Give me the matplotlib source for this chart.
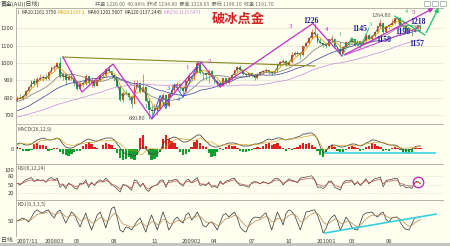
import matplotlib
matplotlib.use('Agg')
import matplotlib.pyplot as plt
from matplotlib.patches import Rectangle
import numpy as np
import pandas as pd

plt.rcParams['font.family'] = ['Noto Sans CJK SC', 'DejaVu Sans']

# 黄金 weekly bars 2007-12-07 .. 2010-08-20
closes = [800, 797, 812, 838, 862, 896, 882, 907, 912, 922,
          906, 946, 975, 975, 1000, 920, 935, 905, 925, 912,
          886, 852, 884, 878, 924, 886, 902, 871, 903, 929,
          934, 963, 955, 929, 912, 865, 788, 830, 829, 805,
          765, 865, 883, 837, 860, 785, 730, 725, 735, 740,
          795, 815, 755, 822, 845, 870, 878, 855, 840, 898,
          928, 913, 945, 1002, 942, 940, 930, 954, 920, 898,
          885, 868, 913, 884, 914, 929, 958, 979, 962, 936,
          934, 940, 928, 912, 937, 951, 953, 959, 947, 944,
          955, 995, 1006, 1010, 990, 1003, 1048, 1056, 1056, 1045,
          1095, 1117, 1145, 1176, 1168, 1122, 1112, 1105, 1096, 1138,
          1140, 1092, 1081, 1053, 1094, 1120, 1118, 1135, 1104, 1125,
          1106, 1126, 1162, 1136, 1154, 1180, 1210, 1231, 1177, 1213,
          1218, 1228, 1256, 1256, 1210, 1209, 1190, 1189, 1181, 1202,
          1214, 1196]
highs = [810, 823, 815, 845, 870, 900, 914, 920, 935, 930,
         935, 955, 978, 990, 1003, 1033, 950, 940, 935, 960,
         925, 895, 890, 890, 935, 925, 915, 900, 910, 935,
         945, 970, 988, 960, 930, 915, 868, 840, 845, 830,
         810, 905, 905, 890, 935, 870, 800, 760, 765, 760,
         800, 830, 820, 830, 880, 875, 890, 885, 865, 905,
         940, 925, 950, 1006, 1000, 950, 945, 965, 960, 930,
         900, 895, 915, 910, 920, 935, 962, 980, 990, 965,
         945, 945, 945, 935, 940, 955, 960, 970, 960, 950,
         960, 1000, 1010, 1025, 1015, 1010, 1062, 1070, 1068, 1060,
         1100, 1120, 1150, 1195, 1226, 1170, 1145, 1115, 1115, 1140,
         1160, 1145, 1100, 1120, 1095, 1125, 1125, 1145, 1135, 1130,
         1115, 1130, 1165, 1165, 1160, 1180, 1212, 1249, 1230, 1215,
         1225, 1250, 1260, 1265, 1262, 1215, 1215, 1200, 1190, 1212,
         1225, 1222]
lows = [780, 795, 790, 810, 835, 855, 870, 865, 900, 895,
        900, 905, 940, 955, 970, 915, 905, 875, 900, 905,
        870, 845, 850, 860, 875, 870, 865, 860, 870, 895,
        920, 920, 950, 915, 895, 860, 780, 776, 815, 790,
        740, 765, 860, 830, 835, 780, 681, 700, 712, 705,
        730, 790, 740, 750, 820, 840, 850, 840, 805, 835,
        890, 895, 905, 940, 935, 900, 900, 885, 915, 880,
        865, 865, 870, 880, 880, 905, 925, 945, 955, 930,
        920, 920, 920, 905, 910, 930, 935, 950, 935, 930,
        940, 950, 985, 1000, 985, 985, 1000, 1040, 1040, 1025,
        1040, 1090, 1110, 1140, 1160, 1115, 1110, 1090, 1085, 1095,
        1125, 1090, 1075, 1045, 1055, 1090, 1095, 1115, 1100, 1100,
        1085, 1105, 1120, 1135, 1130, 1150, 1170, 1200, 1165, 1175,
        1195, 1215, 1225, 1230, 1200, 1195, 1190, 1175, 1157, 1175,
        1190, 1188]
# 2007 weekly closes before the window, they only seed the long averages
warmup = [632, 608, 626, 630, 648, 650, 666, 666, 685, 645,
          654, 655, 664, 663, 677, 690, 689, 680, 683, 670,
          662, 656, 667, 656, 658, 656, 650, 657, 665, 682,
          670, 670, 676, 660, 669, 673, 703, 711, 735, 743,
          737, 754, 765, 786, 807, 834, 788, 825, 783]

macd_bar = [4, 3, -3, -4, -4, -2, 10, 12, 8, 9,
            6, -3, -2, 3, 2, -6, -10, -12, -13, -10,
            -6, -4, -3, 6, 11, 14, 10, 5, 2, 1,
            8, 12, 11, 9, 3, -8, -18, -22, -20, -16,
            -20, -22, -12, 22, 28, 6, -12, -22, -20, -16,
            -6, 20, 28, 20, 16, 12, 4, -6, -12, -10,
            -6, 4, 14, 18, 12, 6, 4, -8, -16, -14,
            -6, 2, -2, 4, 8, 6, 7, 3, -3, -6,
            -6, -4, -2, 3, 4, 2, 6, 10, 12, 8,
            10, 12, 6, 2, -3, 3, -2, 2, 4, 8,
            12, 10, 12, 8, 4, -4, -12, -16, -6, 6,
            8, 5, -4, -6, -5, -2, 4, 6, 5, 2,
            -3, -2, 4, 6, 12, 10, 6, 4, -3, -2,
            -3, 2, 4, 3, -2, -6, -8, -8, -6, 2,
            3, 3]
diff = [10, 12, 10, 8, 8, 10, 14, 18, 20, 22,
        20, 18, 18, 20, 22, 18, 10, 4, 2, 2,
        4, 8, 10, 14, 18, 20, 18, 16, 16, 18,
        20, 22, 22, 22, 18, 10, 2, -6, -10, -10,
        -12, -14, -10, 0, 4, 0, -6, -10, -10, -8,
        -4, 10, 18, 20, 22, 24, 22, 18, 14, 14,
        16, 20, 24, 28, 28, 22, 16, 10, 6, 4,
        4, 6, 8, 10, 12, 12, 12, 10, 8, 6,
        6, 6, 8, 10, 10, 12, 14, 18, 20, 18,
        20, 22, 22, 20, 18, 20, 20, 22, 24, 26,
        30, 30, 32, 32, 28, 20, 4, -8, -4, 4,
        8, 8, 6, 4, 4, 6, 8, 10, 10, 8,
        6, 8, 12, 14, 18, 18, 16, 14, 12, 10,
        8, 8, 8, 6, 2, -2, -2, -2, 0, 4,
        6, 6]
rsi1 = [55, 48, 58, 66, 70, 74, 60, 68, 64, 66,
        58, 70, 74, 66, 72, 40, 50, 36, 55, 48,
        38, 34, 55, 52, 66, 40, 58, 46, 60, 66,
        60, 72, 62, 48, 44, 34, 24, 50, 48, 40,
        30, 66, 62, 42, 55, 34, 26, 40, 46, 50,
        64, 66, 40, 64, 62, 68, 66, 52, 44, 64,
        68, 56, 66, 74, 46, 50, 46, 58, 40, 44,
        38, 62, 50, 62, 64, 70, 72, 56, 46, 48,
        44, 40, 56, 60, 58, 52, 60, 56, 52, 60,
        70, 72, 64, 48, 60, 70, 64, 62, 56, 72,
        74, 76, 78, 80, 68, 40, 42, 36, 44, 62,
        60, 40, 36, 30, 56, 64, 62, 66, 48, 60,
        46, 58, 70, 52, 62, 70, 72, 76, 42, 64,
        66, 68, 72, 70, 44, 48, 38, 42, 36, 58,
        62, 52]
rsi2 = [54, 52, 55, 60, 64, 66, 62, 64, 63, 64,
        60, 64, 66, 63, 66, 50, 52, 44, 52, 50,
        44, 42, 50, 52, 58, 48, 54, 50, 56, 60,
        58, 64, 60, 52, 48, 42, 34, 46, 46, 42,
        38, 56, 56, 46, 52, 40, 34, 42, 46, 48,
        58, 60, 48, 58, 58, 62, 62, 54, 50, 58,
        62, 56, 60, 66, 52, 52, 50, 54, 46, 46,
        44, 56, 52, 58, 60, 64, 66, 58, 52, 50,
        48, 46, 54, 56, 56, 54, 58, 56, 54, 58,
        64, 66, 62, 54, 58, 64, 62, 60, 58, 66,
        68, 70, 72, 72, 66, 50, 48, 44, 48, 58,
        58, 48, 44, 40, 52, 58, 58, 60, 52, 56,
        50, 56, 64, 56, 60, 64, 66, 68, 52, 60,
        62, 62, 66, 64, 52, 52, 46, 46, 44, 54,
        58, 54]
k_val = [50, 55, 60, 55, 47, 62, 80, 87, 80, 77,
         84, 87, 70, 60, 80, 87, 65, 43, 62, 80,
         72, 50, 30, 55, 77, 45, 20, 45, 70, 80,
         55, 27, 60, 92, 97, 60, 20, 13, 30, 28,
         20, 35, 50, 60, 35, 13, 45, 70, 45, 20,
         50, 80, 55, 20, 35, 55, 63, 50, 43, 70,
         77, 53, 65, 80, 60, 35, 30, 42, 47, 35,
         20, 45, 70, 75, 63, 72, 80, 60, 30, 18,
         13, 35, 55, 63, 62, 60, 70, 77, 50, 20,
         50, 80, 60, 37, 75, 87, 82, 70, 45, 20,
         50, 80, 82, 85, 87, 70, 43, 10, 25, 50,
         63, 70, 50, 20, 40, 63, 50, 30, 22, 20,
         45, 70, 77, 78, 80, 70, 63, 75, 80, 55,
         47, 60, 63, 63, 45, 30, 22, 20, 40, 60,
         62, 65]

ma_names = ['MA10', 'MA20', 'MA60', 'MA120', 'MA250']
ma_weeks = [2, 4, 12, 24, 50]
ma_values = ['1161.3750', '1197.1', '1202.5607', '1137.2445', '1115.5471']
ma_colors = ['#505050', '#d8a000', '#808080', '#4848a8', '#c890d8']

month_ticks = ['2008-03', '2008-05', '2008-08', '2008-11', '2009-02', '2009-04',
               '2009-07', '2009-10', '2010-01', '2010-03', '2010-06']
month_labels = ['200803', '05', '08', '11', '200902', '04', '07', '10', '201001', '03', '06']

# drawn wave count, (week index, price)
wave_main = [(16.0, 1034), (22.7, 834), (33.5, 994), (47.1, 680.8), (64.3, 1006),
             (70.9, 863), (103.4, 1226), (113.6, 1040)]
wave_blue = [(47.1, 680.8), (50, 815), (52, 740), (55, 880), (58, 805), (63.5, 1006)]
wave_green = [(113.6, 1040), (117, 1145), (120, 1088), (123, 1200)]
trend_olive = [(16.0, 1034), (104.1, 983)]
trend_pink = [(114.6, 1046), (140.1, 1200)]
up_arrow = [(113.6, 1040), (146.4, 1320)]
proj_green = [(132, 1268), (142.6, 1160), (147.8, 1330)]

BG = '#fffff0'
EDGE = '#a8a8a0'
UP, DOWN = '#e04a1e', '#18a050'
W, H = 450.0, 246.0

fig = plt.figure(figsize=(4.5, 2.46), dpi=100, facecolor=BG)


def panel(top, bottom):
    a = fig.add_axes([16 / W, 1 - bottom / H, 427 / W, (bottom - top) / H], facecolor=BG)
    for s in ['right', 'bottom']:
        a.spines[s].set_visible(False)
    for s in ['left', 'top']:
        a.spines[s].set_color(EDGE)
        a.spines[s].set_linewidth(0.6)
    a.tick_params(length=0, labelsize=4.2, labelcolor='#404040', pad=1.5)
    a.set_xlim(-0.4, 148.9)
    a.set_xticks([])
    return a


def chain(x, y, parts, size=3.7, gap=1.5):
    t = fig.text(x / W, 1 - y / H, parts[0][0], color=parts[0][1], fontsize=size, va='center')
    for s, c in parts[1:]:
        t = ax.annotate(s, xy=(1, 0.5), xycoords=t, xytext=(gap, 0), textcoords='offset points',
                        fontsize=size, color=c, va='center', ha='left', annotation_clip=False)


def tag(a, i, p, s, color, size=5.5, bold=True):
    a.text(i, p, s, color=color, fontsize=size, fontweight='bold' if bold else 'normal',
           family='Liberation Serif', ha='center', va='center', clip_on=False)


ax = panel(8, 124)
ax_macd = panel(124, 164)
ax_rsi = panel(164, 200)
ax_kdj = panel(200, 236)

# candles
idx = np.arange(len(closes))
c = np.array(closes, float)
o = np.r_[warmup[-1], c[:-1]]
h = np.maximum(np.array(highs, float), np.maximum(o, c))
l = np.minimum(np.array(lows, float), np.minimum(o, c))
col = np.where(c >= o, UP, DOWN)
ax.vlines(idx, l, h, colors=col, lw=0.45)
ax.bar(idx, np.maximum(np.abs(c - o), 2), bottom=np.minimum(o, c), width=0.62, color=col, lw=0)

series = pd.Series(warmup + closes, dtype=float)
for name, w, colr in zip(ma_names, ma_weeks, ma_colors):
    ma = series.rolling(w).mean().iloc[len(warmup):].to_numpy()
    ax.plot(idx, ma, color=colr, lw=0.55)

ax.set_ylim(651.4, 1314.3)
ax.set_yticks([700, 800, 900, 1000, 1100, 1200])
ax.grid(axis='y', color='#e0e0d4', lw=0.5)
ax.set_axisbelow(True)

# wave lines
ax.plot(*zip(*trend_olive), color='#8a8a20', lw=0.8)
ax.plot(*zip(*wave_main), color='#c030c8', lw=0.9)
ax.plot(*zip(*wave_blue), color='#3060e0', lw=0.7)
ax.plot(*zip(*wave_green), color='#20c070', lw=0.7)
ax.plot(*zip(*trend_pink), color='#d050d0', lw=0.8)
ax.annotate('', xy=up_arrow[1], xytext=up_arrow[0], annotation_clip=False,
            arrowprops=dict(arrowstyle='-|>', color='#c030c8', lw=0.9, mutation_scale=6))
ax.plot(*zip(*proj_green[:2]), color='#20c070', lw=0.9)
ax.annotate('', xy=proj_green[2], xytext=proj_green[1], annotation_clip=False,
            arrowprops=dict(arrowstyle='-|>', color='#20c070', lw=0.9, mutation_scale=6))

navy = '#1c1c9c'
for i, p, s in [(102.7, 1240, '1226'), (119.9, 1192, '1145'), (128.3, 1132, '1158'),
                (134.8, 1180, '1196'), (140.1, 1234, '1218'), (139.8, 1110, '1157')]:
    tag(ax, i, p, s, navy, 5.5)
tag(ax, 127.2, 1272, '1264.80', '#505050', 4.3, False)
tag(ax, 41.9, 680, '680.80', '#404040', 4.3, False)
for i, p, s in [(59.4, 977, '1'), (67.4, 1011, '2'), (95.7, 1206, '3'),
                (108.3, 1194, '4'), (138.6, 1288, '5')]:
    tag(ax, i, p, s, '#c030c8', 5, False)
for i, p, s in [(45.1, 754, '1'), (49.5, 735, '2'), (52.7, 857, '3'), (56.5, 790, '4')]:
    tag(ax, i, p, s, '#3060e0', 4.5, False)
for i, p, s in [(113.0, 1165, '1'), (117.0, 1125, '2'), (123.3, 1222, '3'), (136.0, 1297, '4')]:
    tag(ax, i, p, s, '#20c070', 4.5, False)

fig.text(238 / W, 1 - 19 / H, '破冰点金', color='#d42020', fontsize=9.5, fontweight='bold',
         ha='center', va='center')

# MACD
bar_col = np.where(np.array(macd_bar) >= 0, '#e02020', '#10a030')
ax_macd.bar(idx, macd_bar, width=0.8, color=bar_col, lw=0)
d = np.array(diff, float)
dea = d - np.array(macd_bar, float) / 2
ax_macd.plot(idx, d, color='#404040', lw=0.55)
ax_macd.plot(idx, dea, color='#d0a020', lw=0.45)
ax_macd.set_ylim(-30, 50)
ax_macd.set_yticks([0])
ax_macd.plot([107.6, 146], [-8, -8], color='#38d0e0', lw=1.2)

# RSI
ax_rsi.plot(idx, rsi1, color='#404040', lw=0.5)
ax_rsi.plot(idx, rsi2, color='#c04848', lw=0.5)
for v in [20, 50, 80]:
    ax_rsi.axhline(v, color='#c8c8c0', lw=0.5, ls=':')
ax_rsi.set_ylim(-3.4, 120.7)
ax_rsi.set_yticks([20, 50, 80, 100])
ax_rsi.plot(140.1, 58.6, 'o', mfc='none', mec='#c030c8', ms=7.5, mew=1)

# KDJ
k = pd.Series(k_val, dtype=float)
d_line = k.ewm(alpha=1 / 3, adjust=False).mean()
ax_kdj.plot(idx, k, color='#404040', lw=0.55)
ax_kdj.plot(idx, d_line, color='#b89060', lw=0.55)
ax_kdj.set_ylim(0, 120)
ax_kdj.set_yticks([50])
ax_kdj.plot([107.6, 146.5], [10, 73], color='#38d0e0', lw=1.2)

dates = pd.date_range('2007-12-07', periods=len(closes), freq='W-FRI')
ym = np.array(dates.strftime('%Y-%m'))
tick_pos = [0] + [int(np.argmax(ym == m)) for m in month_ticks]
ax_kdj.set_xticks(tick_pos)
ax_kdj.set_xticklabels(['2007/11'] + month_labels)
ax_kdj.tick_params(axis='x', labelsize=4.2, pad=2)
ax_kdj.get_xticklabels()[0].set_ha('left')
ax_kdj.set_xlim(-0.4, 148.9)

# header and panel captions
fig.text(1 / W, 1 - 4 / H, '黄金(AU)(日线)', fontsize=4.2, color='#404040', va='center')
fig.text(95 / W, 1 - 4 / H, '开盘 1226.00  40.98%  昨收 1194.80  最高 1218.85  最低 1196.10  收盘 1191.70',
         fontsize=3.7, color='#707070', va='center')
for k_ in range(3):
    fig.add_artist(Rectangle(((424 + 8 * k_) / W, 1 - 6 / H), 6 / W, 5 / H, transform=fig.transFigure,
                             fill=False, ec='#90a0c0', lw=0.5))
fig.text(1 / W, 1 - 240 / H, '日线', fontsize=4.2, color='#404040', va='center')
fig.add_artist(Rectangle((0, 0), 1, 3 / H, transform=fig.transFigure, color='#c4c4c0', lw=0))

legend = [('I.', '#404040')]
for name, val, colr in zip(ma_names, ma_values, ['#303030', '#d8a000', '#303030', '#303030', '#c890d8']):
    legend.append((name + ':' + val, colr))
chain(17, 12, legend, size=3.4, gap=1.2)
chain(17, 129, [('MACD(26,12,9)', '#505050'), ('DIFF:-5.1229', '#303030'),
                ('DEA:-6.6784', '#d0a020'), ('MACD:3.1110', '#303030')])
chain(17, 168, [('RSI(6,12,24)', '#505050'), ('RSI1:73.4687', '#303030'),
                ('RSI2:58.6857', '#d0a020'), ('RSI3:51.5653', '#5050c0')])
chain(17, 204, [('KDJ(9,3,3,5)', '#505050'), ('K:57.2986', '#303030'), ('D:40.4850', '#d0a020')])

fig.savefig('out.png', dpi=100, facecolor=BG)
